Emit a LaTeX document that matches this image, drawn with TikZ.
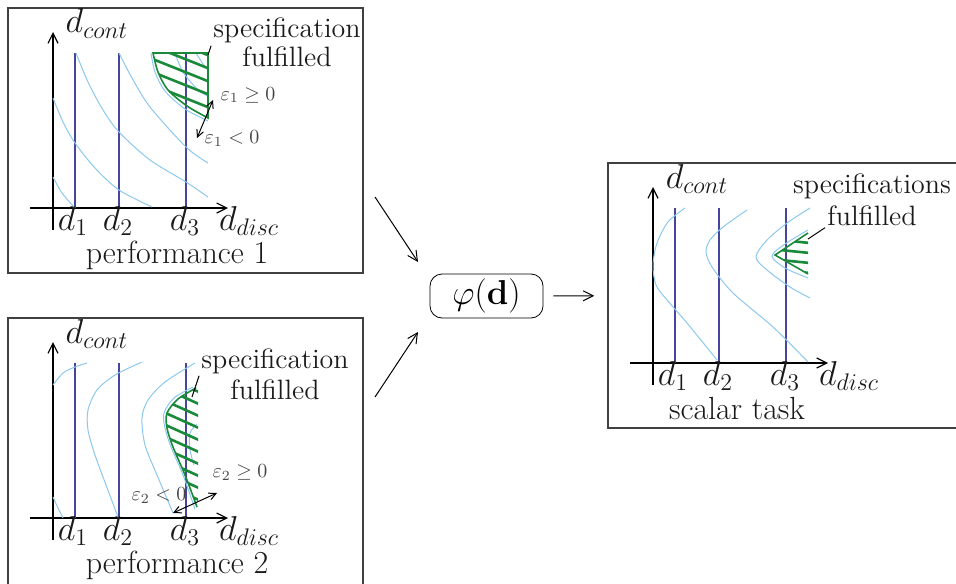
\documentclass[tikz,border=0pt]{standalone}
\usepackage{amsmath,amssymb}
\usetikzlibrary{arrows.meta,positioning}
\definecolor{framegray}{HTML}{404040}
\definecolor{skyline}{HTML}{8CC8EE}
\definecolor{navyline}{HTML}{45459E}
\definecolor{specgreen}{HTML}{1A8A3A}
\definecolor{darktext}{HTML}{1A1A1A}
\definecolor{epstext}{HTML}{444444}
\DeclareMathSizes{16}{16}{12.5}{10}
\DeclareMathSizes{10}{10}{7.5}{6}

\begin{document}
\begin{tikzpicture}[x=0.5pt, y=-0.5pt,
  panel/.style={draw=framegray, line width=0.8pt, minimum width=177.5pt,
                minimum height=132.5pt, inner sep=0pt},
  axis/.style={-{Straight Barb[length=5pt,width=5pt]}, line width=0.6pt},
  design/.style={draw=navyline, line width=0.6pt},
  curve/.style={draw=skyline, line width=0.5pt},
  hatch/.style={draw=specgreen, line width=1.3pt},
  border/.style={draw=specgreen, line width=0.8pt},
  lbl/.style={font=\fontsize{16}{19}\selectfont, text=darktext,
              inner sep=1pt, anchor=base},
  spectext/.style={lbl, font=\fontsize{14}{17}\selectfont},
  small/.style={font=\fontsize{10}{12}\selectfont, text=epstext,
                inner sep=1pt, anchor=base},
  link/.style={-{Straight Barb[length=5pt,width=5pt]}, line width=0.5pt},
  eps/.style={{Straight Barb[length=3.5pt,width=3.5pt]}-{Straight Barb[length=3.5pt,width=3.5pt]},
              line width=0.5pt},
  pointer/.style={line width=0.5pt},
  phinode/.style={draw, rounded corners=6pt, minimum width=56.5pt,
                  minimum height=22pt, inner sep=0pt,
                  font=\fontsize{16}{19}\selectfont},
]
  \clip (0,0) rectangle (956,583);

  % the three panels
  \node[panel] (perf1) at (185.5,140.5) {};
  \node[panel, minimum height=136pt] (perf2) at (185.5,454) {};
  \node[panel] (task) at (785.5,295.5) {};

  % axes and discrete designs, same in every panel
  \foreach \sx/\sy/\p in {0/0/a, 0/310/b, 600/155/c} {
    \begin{scope}[shift={(\sx,\sy)}]
      \draw[axis] (53,230) -- (53,32);
      \draw[axis] (30,208) -- (228,208);
      \foreach \x in {75,119,186} \draw[design] (\x,208) -- (\x,53);
      \node[lbl] (\p-cont) at (97,33) {$d_{cont}$};
      \foreach \i/\x in {1/73,2/118,3/185}
        \node[lbl] (\p-d\i) at (\x,230) {$d_{\i}$};
      \node[lbl] (\p-disc) at (249,230) {$d_{disc}$};
    \end{scope}
  }

  % performance 1
  \draw[curve] plot[smooth] coordinates {(53,177) (62,193) (74,207)};
  \draw[curve] plot[smooth] coordinates {(53,98) (63,122) (75,143) (95,168) (119,190) (152,207)};
  \draw[curve] plot[smooth] coordinates {(76,53) (88,82) (103,110) (119,132) (150,160) (186,182) (208,197)};
  \draw[curve] plot[smooth] coordinates {(119,53) (132,78) (150,107) (186,147) (208,163)};
  \draw[curve] plot[smooth] coordinates {(151,53) (155,72) (165,91) (185,109) (208,121)};
  \draw[curve] plot[smooth] coordinates {(175,53) (183,72) (198,90) (208,96)};
  \draw[curve] plot[smooth] coordinates {(196,53) (203,64) (208,70)};
  \begin{scope}
    \clip (153,53) -- (208,53) -- (208,118)
      -- plot[smooth] coordinates {(208,118) (187,106) (168,90) (158,72) (153,53)} -- cycle;
    \foreach \k in {0,...,5} \draw[hatch] (140,28+13*\k) -- +(80,32);
  \end{scope}
  \draw[border] (153,53) -- (208,53) -- (208,118)
    -- plot[smooth] coordinates {(208,118) (187,106) (168,90) (158,72) (153,53)} -- cycle;
  \coordinate (e1a) at (197,138);
  \coordinate (e1b) at (213,100);
  \draw[eps] (e1a) -- (e1b);
  \node[small] (eps1p) at (248,100) {$\varepsilon_1 \geq 0$};
  \node[small] (eps1n) at (232,143) {$\varepsilon_1 < 0$};
  \node[spectext] (spec1) at (287,38) {specification};
  \node[spectext] (ful1) at (287,67) {fulfilled};
  \coordinate (tip1) at (208,55);
  \draw[pointer] (tip1) -- (spec1.south west);
  \node[lbl] (t1) at (177,263) {performance 1};

  % performance 2
  \begin{scope}[shift={(0,310)}]
    \draw[curve] plot[smooth] coordinates {(53,75) (63,63) (75,57) (87,53)};
    \draw[curve] plot[smooth] coordinates {(53,187) (58,198) (63,208)};
    \draw[curve] plot[smooth] coordinates {(142,52) (115,65) (97,80) (88,100) (88,120) (95,145) (106,175) (118,207)};
    \draw[curve] plot[smooth] coordinates {(195,53) (165,72) (148,90) (142,108) (145,135) (157,165) (173,203)};
    \draw[curve] plot[smooth] coordinates {(193,77) (174,88) (164,103) (165,118) (171,137) (183,165) (195,199)};
    \draw[curve] plot[smooth] coordinates {(197,114) (190,123) (190,140) (194,155)};
    \begin{scope}
      \clip plot[smooth] coordinates {(196,78) (178,89) (167,103) (167,118) (173,137) (185,165) (197,197)}
        -- (198,197) -- (198,78) -- cycle;
      \foreach \k in {0,...,10} \draw[hatch] (150,60+12*\k) -- +(60,27);
    \end{scope}
    \draw[border] plot[smooth] coordinates {(196,78) (178,89) (167,103) (167,118) (173,137) (185,165) (197,197)};
    \coordinate (e2a) at (173,203);
    \coordinate (e2b) at (217,183);
    \draw[eps] (e2a) -- (e2b);
    \node[small] (eps2p) at (240,167) {$\varepsilon_2 \geq 0$};
    \node[small] (eps2n) at (159,190) {$\varepsilon_2 < 0$};
    \node[spectext] (spec2) at (275,58) {specification};
    \node[spectext] (ful2) at (275,89) {fulfilled};
    \coordinate (tip2) at (192,87);
    \draw[pointer] (tip2) -- (spec2.south west);
    \node[lbl] (t2) at (177,263) {performance 2};
  \end{scope}

  % scalar task
  \begin{scope}[shift={(600,155)}]
    \draw[curve] plot[smooth] coordinates {(85,53) (68,67) (57,88) (53,110) (56,130) (67,145) (87,168) (117,205)};
    \draw[curve] plot[smooth] coordinates {(147,55) (123,72) (110,85) (106,97) (112,112) (133,138) (173,172) (208,207)};
    \draw[curve] plot[smooth] coordinates {(210,53) (187,68) (167,85) (156,102) (167,115) (190,132) (210,143)};
    \draw[curve] plot[smooth] coordinates {(208,75) (185,89) (172,101) (185,113) (208,123)};
    \begin{scope}
      \clip (208,78) -- (175,100) -- (208,119) -- cycle;
      \foreach \k in {0,...,3} \draw[hatch] (170,84+10*\k) -- +(40,4);
    \end{scope}
    \draw[border] (208,78) -- (175,100) -- (208,119);
    \node[spectext] (spec3) at (272,38) {specifications};
    \node[spectext] (ful3) at (272,70) {fulfilled};
    \coordinate (tip3) at (208,84);
    \draw[pointer] (tip3) -- (ful3.south west);
    \node[lbl] (t3) at (137,264) {scalar task};
  \end{scope}

  % combination into one scalar task
  \node[phinode] (phi) at (486.5,296) {$\varphi(\mathbf{d})$};
  \coordinate (in1) at (375,197);
  \coordinate (out1) at (418,262);
  \coordinate (in2) at (375,397);
  \coordinate (out2) at (418,332);
  \draw[link] (in1) -- (out1);
  \draw[link] (in2) -- (out2);
  \draw[link, shorten <=5pt, shorten >=6.5pt] (phi) -- (task);
\end{tikzpicture}
\end{document}
